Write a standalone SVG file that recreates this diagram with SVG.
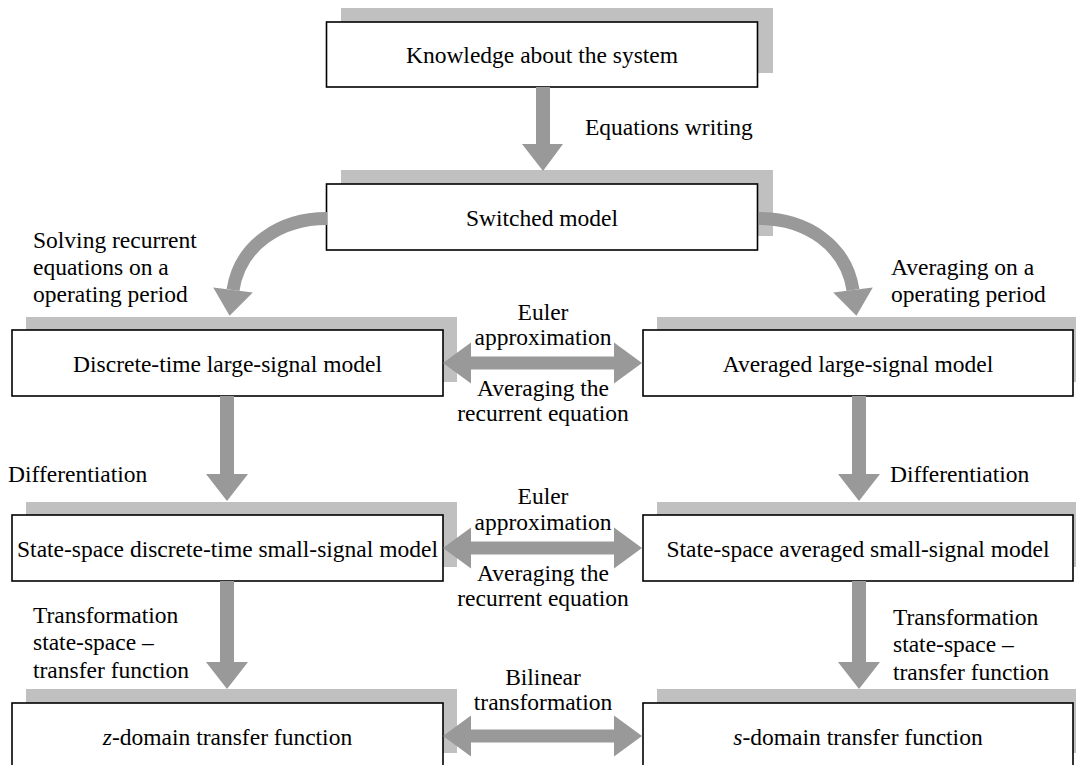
<svg xmlns="http://www.w3.org/2000/svg" width="1076" height="765" viewBox="0 0 1076 765">
<style>
.sh{fill:#c0c0c0;stroke:none}
.bx{fill:#fff;stroke:#000;stroke-width:1.6}
text{font-family:"Liberation Serif","Times New Roman",serif;font-size:23.5px;fill:#000}
.c{text-anchor:middle}
.ar{fill:#999999;stroke:none}
.cv{fill:none;stroke:#999999;stroke-width:13}
</style>
<rect width="1076" height="765" fill="#fff"/>
<g id="n-knowledge">
<rect class="sh" x="341" y="8" width="432" height="65"/>
<rect class="bx" x="326.5" y="22" width="431" height="65"/>
<text class="c" x="542" y="63">Knowledge about the system</text>
</g>
<g id="n-switched">
<rect class="sh" x="341" y="170" width="432" height="66"/>
<rect class="bx" x="326.5" y="184" width="431" height="66"/>
<text class="c" x="542" y="225.5">Switched model</text>
</g>
<g id="n-discrete-large">
<rect class="sh" x="26" y="317" width="431" height="65"/>
<rect class="bx" x="12" y="330" width="431" height="66"/>
<text class="c" x="227.5" y="371.5">Discrete-time large-signal model</text>
</g>
<g id="n-averaged-large">
<rect class="sh" x="657" y="317" width="431" height="65"/>
<rect class="bx" x="643" y="330" width="430" height="66"/>
<text class="c" x="858" y="371.5">Averaged large-signal model</text>
</g>
<g id="n-ss-discrete">
<rect class="sh" x="26" y="502" width="431" height="65"/>
<rect class="bx" x="12" y="515" width="431" height="66"/>
<text class="c" x="227.5" y="556.5">State-space discrete-time small-signal model</text>
</g>
<g id="n-ss-averaged">
<rect class="sh" x="657" y="502" width="431" height="65"/>
<rect class="bx" x="643" y="515" width="430" height="66"/>
<text class="c" x="858" y="556.5">State-space averaged small-signal model</text>
</g>
<g id="n-z-domain">
<rect class="sh" x="26" y="689" width="431" height="64"/>
<rect class="bx" x="12" y="703" width="431" height="68"/>
<text class="c" x="227.5" y="745"><tspan font-style="italic">z</tspan>-domain transfer function</text>
</g>
<g id="n-s-domain">
<rect class="sh" x="657" y="689" width="431" height="64"/>
<rect class="bx" x="643" y="703" width="430" height="68"/>
<text class="c" x="858" y="745"><tspan font-style="italic">s</tspan>-domain transfer function</text>
</g>
<g id="connectors">
<polygon class="ar" points="536,87 550,87 550,144 563,144 543,171 522,144 536,144"/>
<path class="cv" d="M327 218.5 C280 218.5 240 245 233 290"/>
<polygon class="ar" points="213.2,287.4 252.8,292.6 229.6,315.8"/>
<path class="cv" d="M759 218.5 C806 218.5 846 245 853 290"/>
<polygon class="ar" points="872.8,287.4 833.2,292.6 856.4,315.8"/>
<polygon class="ar" points="220,396 234,396 234,474 248,474 227,501 206,474 220,474"/>
<polygon class="ar" points="852,396 866,396 866,474 880,474 859,501 838,474 852,474"/>
<polygon class="ar" points="220,581 234,581 234,662 248,662 227,689 206,662 220,662"/>
<polygon class="ar" points="852,581 866,581 866,662 880,662 859,689 838,662 852,662"/>
<polygon class="ar" points="443,363 471,342.5 471,356.5 614,356.5 614,342.5 642,363 614,383.5 614,369.5 471,369.5 471,383.5"/>
<polygon class="ar" points="443,548 471,527.5 471,541.5 614,541.5 614,527.5 642,548 614,568.5 614,554.5 471,554.5 471,568.5"/>
<polygon class="ar" points="443,736 471,715.5 471,729.5 614,729.5 614,715.5 642,736 614,756.5 614,742.5 471,742.5 471,756.5"/>
</g>
<g id="labels">
<text x="585" y="135">Equations writing</text>
<text x="33" y="248">Solving recurrent</text>
<text x="33" y="275">equations on a</text>
<text x="33" y="302">operating period</text>
<text x="891" y="275">Averaging on a</text>
<text x="891" y="302">operating period</text>
<text class="c" x="543" y="320">Euler</text>
<text class="c" x="543" y="345">approximation</text>
<text class="c" x="543" y="396">Averaging the</text>
<text class="c" x="543" y="421">recurrent equation</text>
<text x="8" y="482">Differentiation</text>
<text x="890" y="482">Differentiation</text>
<text class="c" x="543" y="504">Euler</text>
<text class="c" x="543" y="530">approximation</text>
<text class="c" x="543" y="581">Averaging the</text>
<text class="c" x="543" y="606">recurrent equation</text>
<text x="33" y="623">Transformation</text>
<text x="33" y="650">state-space –</text>
<text x="33" y="678">transfer function</text>
<text x="893" y="625">Transformation</text>
<text x="893" y="652">state-space –</text>
<text x="893" y="680">transfer function</text>
<text class="c" x="543" y="685">Bilinear</text>
<text class="c" x="543" y="710">transformation</text>
</g>
</svg>
